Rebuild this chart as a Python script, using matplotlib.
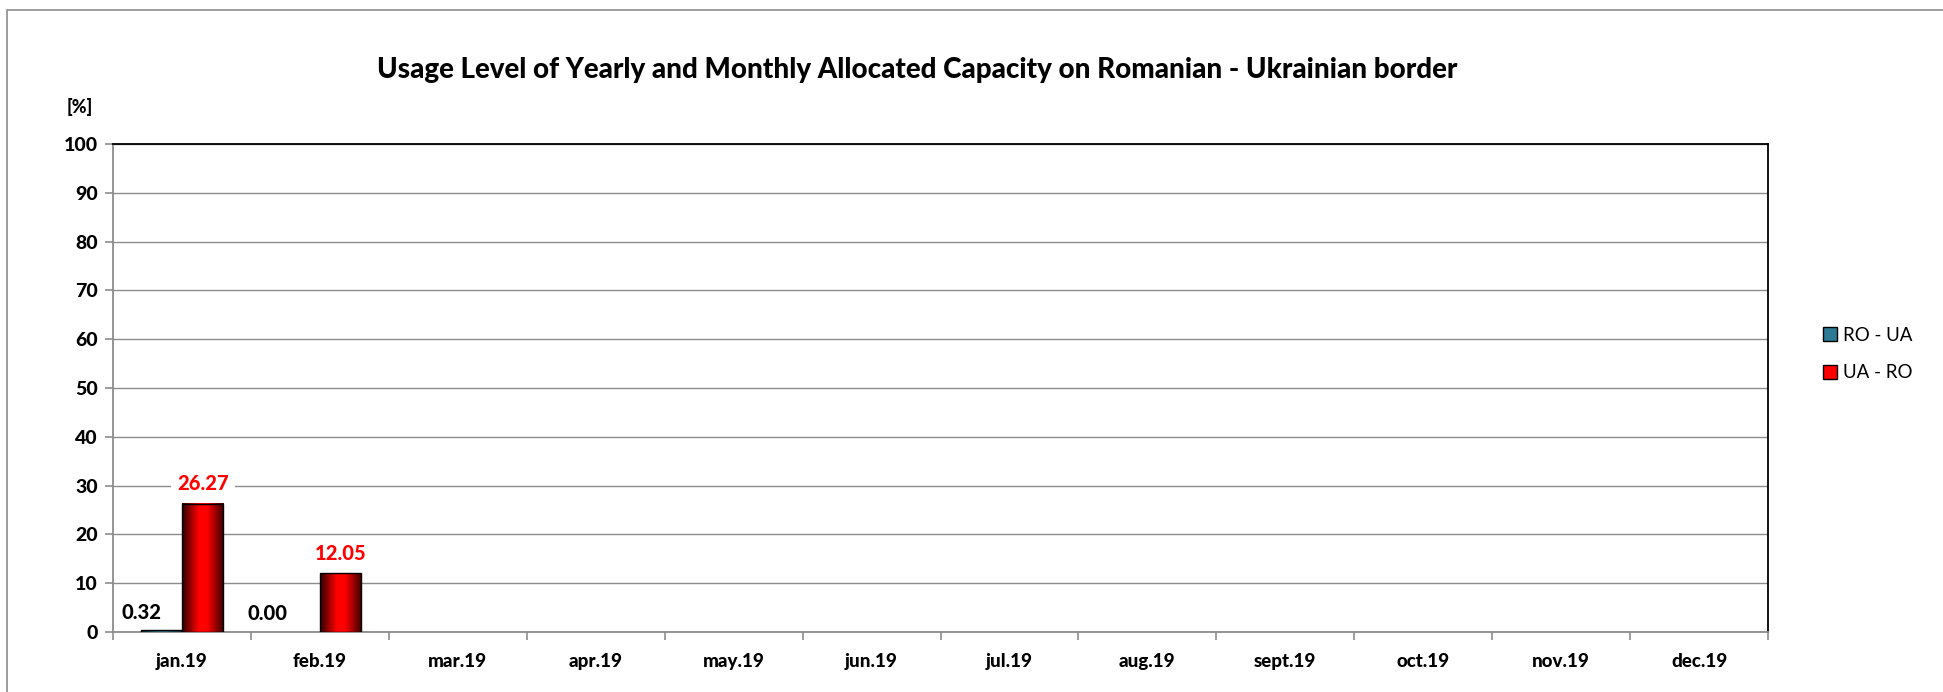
import matplotlib
matplotlib.use("Agg")
import matplotlib.pyplot as plt
import numpy as np
from matplotlib.colors import LinearSegmentedColormap
from matplotlib.patches import Rectangle
from matplotlib.lines import Line2D

plt.rcParams['font.family'] = ['Lato', 'DejaVu Sans']
BOLD = 900

months = ['jan.19', 'feb.19', 'mar.19', 'apr.19', 'may.19', 'jun.19',
          'jul.19', 'aug.19', 'sept.19', 'oct.19', 'nov.19', 'dec.19']
ro_ua = [0.32, 0.00]
ua_ro = [26.27, 12.05]
series_names = ['RO - UA', 'UA - RO']
yticks = list(range(0, 101, 10))

W, H = 1943, 692
fig = plt.figure(figsize=(W / 100, H / 100), dpi=100)

# outer chart frame
fig.add_artist(Rectangle((7 / W, -0.1), 1.2, 1 - 10 / H + 0.1,
                         transform=fig.transFigure, fill=False,
                         edgecolor='#8c8c8c', lw=1.2, clip_on=False))

left, right, top, bottom = 113, 1768, 144, 632
ax = fig.add_axes([left / W, (H - bottom) / H, (right - left) / W, (bottom - top) / H])

red_cmap = LinearSegmentedColormap.from_list(
    'redbar', [(0, '#2a0000'), (0.4, '#ff0000'), (0.6, '#ff0000'), (1, '#3a0000')])
blue_cmap = LinearSegmentedColormap.from_list(
    'bluebar', [(0, '#0f2e3a'), (0.4, '#3a8aa6'), (0.6, '#3a8aa6'), (1, '#13394a')])

bw = 0.3
grad = np.linspace(0, 1, 256).reshape(1, -1)


def gradient_bars(xs, vals, cmap):
    for x, v in zip(xs, vals):
        if v <= 0:
            continue
        ax.imshow(grad, cmap=cmap, aspect='auto', extent=(x - bw / 2, x + bw / 2, 0, v),
                  zorder=3, interpolation='bicubic')
        ax.add_patch(Rectangle((x - bw / 2, 0), bw, v, fill=False,
                               edgecolor='black', lw=1.0, zorder=4))


x = np.arange(len(months))
x_blue = x[:len(ro_ua)] - bw / 2
x_red = x[:len(ua_ro)] + bw / 2
gradient_bars(x_blue, ro_ua, blue_cmap)
gradient_bars(x_red, ua_ro, red_cmap)

# value labels
blue_dx = [-20, -32]
for xb, v, dx in zip(x_blue, ro_ua, blue_dx):
    ax.annotate(f'{v:.2f}', (xb, v), xytext=(dx * 0.72, 13), textcoords='offset points',
                ha='center', va='center', fontsize=14.5, fontweight=BOLD,
                color='black', zorder=5)
for xr, v in zip(x_red, ua_ro):
    ax.annotate(f'{v:.2f}', (xr, v), xytext=(0, 14.5), textcoords='offset points',
                ha='center', va='center', fontsize=14.5, fontweight=BOLD, color='#ff0000',
                zorder=5, bbox=dict(boxstyle='square,pad=0.3', fc='white', ec='none'))

ax.set_xlim(-0.5, len(months) - 0.5)
ax.set_ylim(0, 100)
ax.set_yticks(yticks)
ax.set_yticklabels([str(t) for t in yticks], fontsize=14, fontweight=BOLD)
ax.yaxis.grid(True, color='#8c8c8c', lw=1.0, zorder=0)
ax.set_axisbelow(True)

ax.set_xticks(x)
ax.set_xticklabels(months, fontsize=13.5, fontweight=BOLD)
ax.set_xticks(np.arange(-0.5, len(months)), minor=True)
ax.tick_params(axis='x', which='major', length=0, pad=15)
ax.tick_params(axis='x', which='minor', length=6, color='#8c8c8c', width=1.2)
ax.tick_params(axis='y', length=6, color='#8c8c8c', width=1.2, pad=5)

ax.spines['left'].set_color('#8c8c8c')
ax.spines['bottom'].set_color('#8c8c8c')
ax.spines['top'].set_color('black')
ax.spines['right'].set_color('black')
for s in ax.spines.values():
    s.set_linewidth(1.3)

fig.text(917 / W, 1 - 70 / H,
         'Usage Level of Yearly and Monthly Allocated Capacity on Romanian - Ukrainian border',
         ha='center', va='center', fontsize=20, fontweight=BOLD)
fig.text(80 / W, 1 - 107 / H, '[%]', ha='center', va='center', fontsize=13, fontweight=BOLD)

handles = [Line2D([], [], marker='s', ls='none', markersize=10, markerfacecolor=c,
                  markeredgecolor='black', markeredgewidth=1.0)
           for c in ('#2e7a94', '#ff0000')]
fig.legend(handles, series_names, loc='center left', bbox_to_anchor=(1815 / W, 1 - 354 / H),
           frameon=False, fontsize=13.5, handletextpad=0.3, labelspacing=1.1,
           handlelength=0.8, borderaxespad=0)

fig.savefig('out.png', dpi=100)
